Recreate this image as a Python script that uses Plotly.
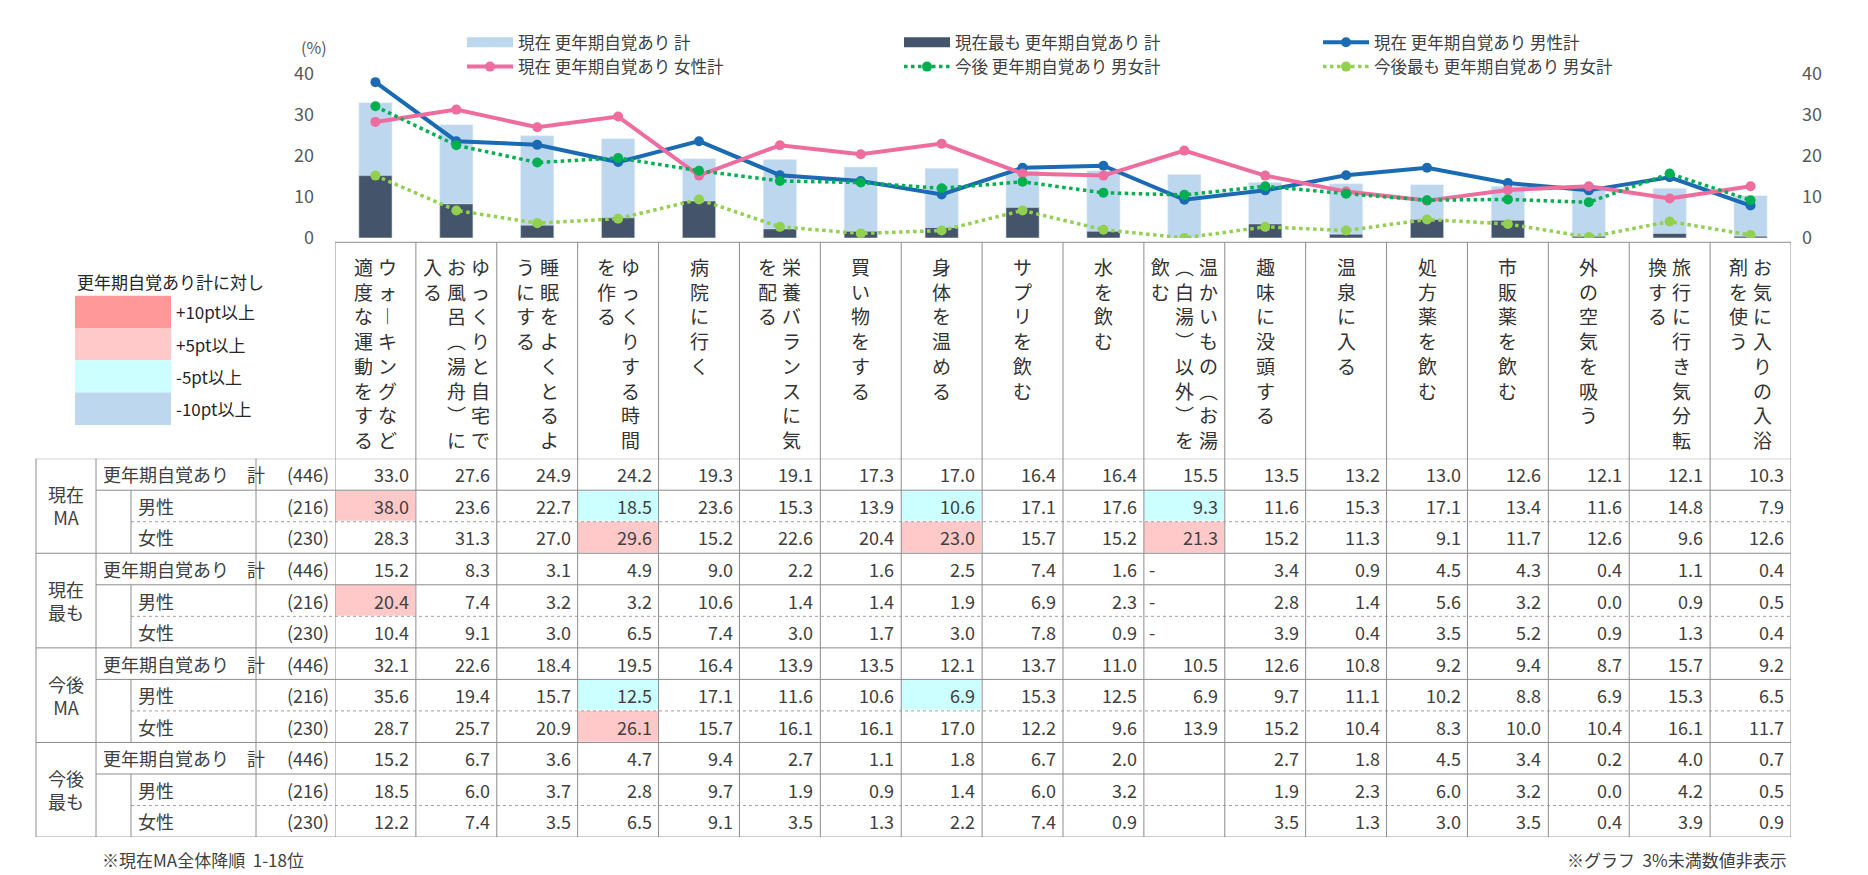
import plotly.graph_objects as go

W, H = 1868, 875
FONT = "Noto Sans CJK JP"

# categories (sorted by 現在MA 全体)
categories = [
    "ウォーキングなど適度な運動をする",
    "ゆっくりと自宅でお風呂（湯舟）に入る",
    "睡眠をよくとるようにする",
    "ゆっくりする時間を作る",
    "病院に行く",
    "栄養バランスに気を配る",
    "買い物をする",
    "身体を温める",
    "サプリを飲む",
    "水を飲む",
    "温かいもの（お湯（白湯）以外）を飲む",
    "趣味に没頭する",
    "温泉に入る",
    "処方薬を飲む",
    "市販薬を飲む",
    "外の空気を吸う",
    "旅行に行き気分転換する",
    "お気に入りの入浴剤を使う",
]

# 現在MA
now_total = [33.0, 27.6, 24.9, 24.2, 19.3, 19.1, 17.3, 17.0, 16.4, 16.4, 15.5, 13.5, 13.2, 13.0, 12.6, 12.1, 12.1, 10.3]
now_male = [38.0, 23.6, 22.7, 18.5, 23.6, 15.3, 13.9, 10.6, 17.1, 17.6, 9.3, 11.6, 15.3, 17.1, 13.4, 11.6, 14.8, 7.9]
now_female = [28.3, 31.3, 27.0, 29.6, 15.2, 22.6, 20.4, 23.0, 15.7, 15.2, 21.3, 15.2, 11.3, 9.1, 11.7, 12.6, 9.6, 12.6]
# 現在最も
nowmost_total = [15.2, 8.3, 3.1, 4.9, 9.0, 2.2, 1.6, 2.5, 7.4, 1.6, None, 3.4, 0.9, 4.5, 4.3, 0.4, 1.1, 0.4]
nowmost_male = [20.4, 7.4, 3.2, 3.2, 10.6, 1.4, 1.4, 1.9, 6.9, 2.3, None, 2.8, 1.4, 5.6, 3.2, 0.0, 0.9, 0.5]
nowmost_female = [10.4, 9.1, 3.0, 6.5, 7.4, 3.0, 1.7, 3.0, 7.8, 0.9, None, 3.9, 0.4, 3.5, 5.2, 0.9, 1.3, 0.4]
# 今後MA
fut_total = [32.1, 22.6, 18.4, 19.5, 16.4, 13.9, 13.5, 12.1, 13.7, 11.0, 10.5, 12.6, 10.8, 9.2, 9.4, 8.7, 15.7, 9.2]
fut_male = [35.6, 19.4, 15.7, 12.5, 17.1, 11.6, 10.6, 6.9, 15.3, 12.5, 6.9, 9.7, 11.1, 10.2, 8.8, 6.9, 15.3, 6.5]
fut_female = [28.7, 25.7, 20.9, 26.1, 15.7, 16.1, 16.1, 17.0, 12.2, 9.6, 13.9, 15.2, 10.4, 8.3, 10.0, 10.4, 16.1, 11.7]
# 今後最も
futmost_total = [15.2, 6.7, 3.6, 4.7, 9.4, 2.7, 1.1, 1.8, 6.7, 2.0, None, 2.7, 1.8, 4.5, 3.4, 0.2, 4.0, 0.7]
futmost_male = [18.5, 6.0, 3.7, 2.8, 9.7, 1.9, 0.9, 1.4, 6.0, 3.2, None, 1.9, 2.3, 6.0, 3.2, 0.0, 4.2, 0.5]
futmost_female = [12.2, 7.4, 3.5, 6.5, 9.1, 3.5, 1.3, 2.2, 7.4, 0.9, None, 3.5, 1.3, 3.0, 3.5, 0.4, 3.9, 0.9]

groups = ["現在<br>MA", "現在<br>最も", "今後<br>MA", "今後<br>最も"]
missing_mark = ["-", "-", "", ""]
row_labels = ["更年期自覚あり\u3000計", "男性", "女性"]
row_n = ["(446)", "(216)", "(230)"]
table_rows = [now_total, now_male, now_female,
              nowmost_total, nowmost_male, nowmost_female,
              fut_total, fut_male, fut_female,
              futmost_total, futmost_male, futmost_female]

key_labels = ["+10pt以上", "+5pt以上", "-5pt以上", "-10pt以上"]
key_colors = ["#FF9999", "#FFC9C9", "#CCFFFF", "#BDD7EE"]


def px(x):
    return x / W


def py(y):
    return 1 - y / H


def nz(vals):
    return [0 if v is None else v for v in vals]


LEFT, RIGHT = 327, 1783
xdom = [px(LEFT), px(RIGHT)]
TTOP, TBOT = 449, 839

fig = go.Figure()

# bars
fig.add_trace(go.Bar(x=categories, y=now_total, marker_color="#BDD7EE", width=0.41,
                     showlegend=False, hoverinfo="skip"))
fig.add_trace(go.Bar(x=categories, y=nz(nowmost_total), marker_color="#44546A", width=0.41,
                     showlegend=False, hoverinfo="skip"))
# legend swatches for the bars
fig.add_trace(go.Scatter(x=[None], y=[None], mode="lines", line=dict(color="#BDD7EE", width=10),
                         name="現在 更年期自覚あり 計", legend="legend", legendrank=1))
fig.add_trace(go.Scatter(x=[None], y=[None], mode="lines", line=dict(color="#44546A", width=10),
                         name="現在最も 更年期自覚あり 計", legend="legend2", legendrank=1))

fig.add_trace(go.Scatter(x=categories, y=now_male, mode="lines+markers", name="現在 更年期自覚あり 男性計",
                         line=dict(color="#1A6BB4", width=4), marker=dict(size=10),
                         legend="legend3", legendrank=1))
fig.add_trace(go.Scatter(x=categories, y=now_female, mode="lines+markers", name="現在 更年期自覚あり 女性計",
                         line=dict(color="#EE6D9E", width=4), marker=dict(size=10),
                         legend="legend", legendrank=2))
fig.add_trace(go.Scatter(x=categories, y=fut_total, mode="lines+markers", name="今後 更年期自覚あり 男女計",
                         line=dict(color="#00B050", width=3.5, dash="dot"), marker=dict(size=10),
                         legend="legend2", legendrank=2, yaxis="y2"))
fig.add_trace(go.Scatter(x=categories, y=nz(futmost_total), mode="lines+markers", name="今後最も 更年期自覚あり 男女計",
                         line=dict(color="#92D050", width=3.5, dash="dot"), marker=dict(size=10),
                         legend="legend3", legendrank=2, yaxis="y2"))

# highlight cells (difference to the total row of the same block)
codes = []
for r, vals in enumerate(table_rows):
    base = table_rows[r - r % 3]
    row = []
    for v, b in zip(vals, base):
        c = None
        if r % 3 and v is not None and b is not None:
            d = round(v - b, 1)
            if d >= 10:
                c = 2
            elif d >= 5:
                c = 1
            elif d <= -10:
                c = -2
            elif d <= -5:
                c = -1
        row.append(c)
    codes.append(row)

fig.add_trace(go.Heatmap(
    x=list(range(len(categories))), y=list(range(len(table_rows))), z=codes,
    xaxis="x3", yaxis="y3", zmin=-2, zmax=2, showscale=False, hoverinfo="skip",
    xgap=1, ygap=1,
    colorscale=[[0, key_colors[3]], [0.125, key_colors[3]], [0.125, key_colors[2]], [0.375, key_colors[2]],
                [0.375, "white"], [0.625, "white"], [0.625, key_colors[1]], [0.875, key_colors[1]],
                [0.875, key_colors[0]], [1, key_colors[0]]],
))

ann = []
shapes = []
txt = "#404040"
line_c = "#8C8C8C"

# vertical category labels
vert = {"ー": "︱", "（": "︵", "）": "︶"}
step = 24 / ((RIGHT - LEFT) / len(categories))
for i, s in enumerate(categories):
    chunks = [s[j:j + 8] for j in range(0, len(s), 8)]
    k = len(chunks)
    for c, ch in enumerate(chunks):
        ann.append(dict(x=i + ((k - 1) / 2 - c) * step, y=py(235), xref="x3", yref="paper",
                        text="<br>".join(vert.get(t, t) for t in ch), showarrow=False,
                        xanchor="center", yanchor="top", font=dict(size=19, color="#333333", family=FONT)))

# table text
for r, vals in enumerate(table_rows):
    g, sub = divmod(r, 3)
    for i, v in enumerate(vals):
        if v is None:
            if missing_mark[g]:
                ann.append(dict(x=i - 0.46, y=r, xref="x3", yref="y3", text=missing_mark[g], showarrow=False,
                                xanchor="left", yanchor="middle", font=dict(size=18, color=txt, family=FONT)))
            continue
        ann.append(dict(x=i + 0.44, y=r, xref="x3", yref="y3", text=f"{v:.1f}", showarrow=False,
                        xanchor="right", yanchor="middle", font=dict(size=18, color=txt, family=FONT)))
    ann.append(dict(x=px(93 if sub == 0 else 128), y=r, xref="paper", yref="y3", text=row_labels[sub],
                    showarrow=False, xanchor="left", yanchor="middle", font=dict(size=18, color=txt, family=FONT)))
    ann.append(dict(x=px(323), y=r, xref="paper", yref="y3", text=row_n[sub],
                    showarrow=False, xanchor="right", yanchor="middle", font=dict(size=18, color=txt, family=FONT)))
for g, lab in enumerate(groups):
    ann.append(dict(x=px(58), y=3 * g + 1, xref="paper", yref="y3", text=lab, showarrow=False,
                    xanchor="center", yanchor="middle", font=dict(size=18, color=txt, family=FONT)))


# table grid
def hline(y, x0, dash="solid", color=line_c):
    shapes.append(dict(type="line", xref="paper", yref="y3", x0=px(x0), x1=px(RIGHT), y0=y, y1=y,
                       line=dict(color=color, width=1, dash=dash)))


for g in range(4):
    hline(3 * g - 0.5, 28)
    hline(3 * g + 0.5, 88)
    hline(3 * g + 1.5, 123, "dot", "#A0A0A0")
    shapes.append(dict(type="line", xref="paper", yref="y3", x0=px(123), x1=px(123),
                       y0=3 * g + 0.5, y1=3 * g + 2.5, line=dict(color=line_c, width=1)))
hline(11.5, 28)
for xv in (28, 88, 248):
    shapes.append(dict(type="line", xref="paper", yref="paper", x0=px(xv), x1=px(xv), y0=py(TTOP), y1=py(TBOT),
                       line=dict(color=line_c, width=1)))
for i in range(len(categories) + 1):
    shapes.append(dict(type="line", xref="x3", yref="paper", x0=i - 0.5, x1=i - 0.5, y0=py(226), y1=py(TBOT),
                       line=dict(color=line_c, width=1)))
shapes.append(dict(type="line", xref="paper", yref="paper", x0=px(LEFT), x1=px(RIGHT), y0=py(226), y1=py(226),
                   line=dict(color=line_c, width=1)))

# colour key
ann.append(dict(x=px(162), y=py(266), xref="paper", yref="paper", text="更年期自覚あり計に対し", showarrow=False,
                xanchor="center", yanchor="middle", font=dict(size=17, color="#262626", family=FONT)))
for k, (lab, col) in enumerate(zip(key_labels, key_colors)):
    y0 = 281 + k * 33.3
    shapes.append(dict(type="rect", xref="paper", yref="paper", x0=px(67), x1=px(163), y0=py(y0), y1=py(y0 + 33.3),
                       fillcolor=col, line=dict(width=0)))
    ann.append(dict(x=px(166), y=py(y0 + 16.6), xref="paper", yref="paper", text=lab, showarrow=False,
                    xanchor="left", yanchor="middle", font=dict(size=17, color="#262626", family=FONT)))

# notes
ann.append(dict(x=px(306), y=py(25), xref="paper", yref="paper", text="(%)", showarrow=False,
                xanchor="center", yanchor="middle", font=dict(size=16, color="#595959", family=FONT)))
ann.append(dict(x=px(92), y=py(862), xref="paper", yref="paper", text="※現在MA全体降順\u00a0\u00a01-18位",
                showarrow=False, xanchor="left", yanchor="middle", font=dict(size=17, color=txt, family=FONT)))
ann.append(dict(x=px(1781), y=py(862), xref="paper", yref="paper", text="※グラフ\u00a0\u00a03%未満数値非表示",
                showarrow=False, xanchor="right", yanchor="middle", font=dict(size=17, color=txt, family=FONT)))

ydom = [py(221.5), py(52.5)]
yax = dict(domain=ydom, range=[0, 40], tickvals=[0, 10, 20, 30, 40], showgrid=False, zeroline=False,
           showline=False, tickfont=dict(size=18, color="#595959", family=FONT), fixedrange=True)
leg = dict(orientation="v", xanchor="left", yanchor="top", y=py(2), bgcolor="rgba(0,0,0,0)",
           itemwidth=46, font=dict(size=16.5, color="#404040", family=FONT), traceorder="normal")

fig.update_layout(
    width=W, height=H, margin=dict(l=0, r=0, t=0, b=0),
    paper_bgcolor="white", plot_bgcolor="white",
    barmode="overlay", font=dict(family=FONT),
    xaxis=dict(domain=xdom, type="category", range=[-0.5, 17.5], showticklabels=False, showgrid=False,
               zeroline=False, showline=False, ticks=""),
    yaxis=dict(**yax, ticklabelstandoff=20),
    yaxis2=dict(**yax, overlaying="y", side="right", anchor="x", ticklabelstandoff=10),
    xaxis3=dict(domain=xdom, range=[-0.5, 17.5], anchor="y3", visible=False),
    yaxis3=dict(domain=[py(TBOT), py(TTOP)], range=[11.5, -0.5], anchor="x3", visible=False),
    legend=dict(leg, x=px(454)),
    legend2=dict(leg, x=px(891)),
    legend3=dict(leg, x=px(1310)),
    annotations=ann, shapes=shapes,
)

fig.write_html("out.html")
